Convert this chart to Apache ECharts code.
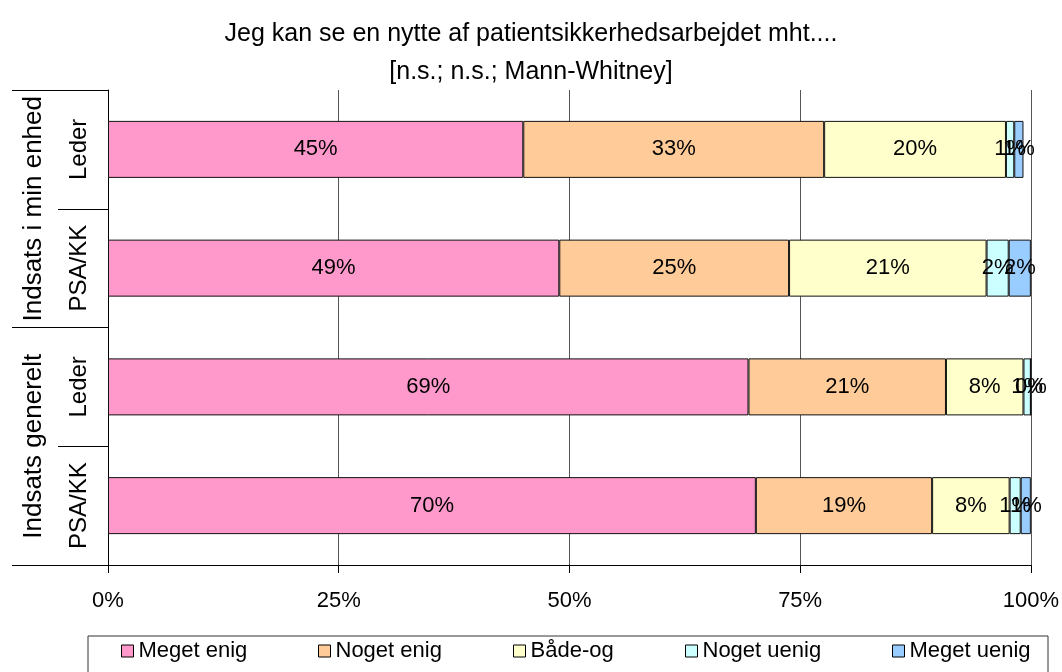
<!DOCTYPE html>
<html>
<head>
<meta charset="utf-8">
<script src="https://cdn.jsdelivr.net/npm/echarts@6/dist/echarts.min.js"></script>
<style>
html,body{margin:0;padding:0;background:#fff;}
#chart{width:1062px;height:672px;}
</style>
</head>
<body>
<div id="chart"></div>
<script>
// ---- data ----
const innerCategories = ['Leder', 'PSA/KK', 'Leder', 'PSA/KK'];
const outerCategories = ['Indsats i min enhed', 'Indsats generelt'];
const seriesNames = ['Meget enig', 'Noget enig', 'Både-og', 'Noget uenig', 'Meget uenig'];
const megetEnig  = [45.0, 48.9, 69.4, 70.2];
const nogetEnig  = [32.6, 24.9, 21.4, 19.1];
const badeOg     = [19.7, 21.4, 8.4, 8.4];
const nogetUenig = [0.9, 2.4, 0.8, 1.2];
const megetUenig = [1.0, 2.4, 0.0, 1.1];
const xTicks = [0, 25, 50, 75, 100];
const titleLines = ['Jeg kan se en nytte af patientsikkerhedsarbejdet mht....', '[n.s.; n.s.; Mann-Whitney]'];

const colors = ['#FF99CC', '#FFCC99', '#FFFFCC', '#CCFFFF', '#99CCFF'];
const values = [megetEnig, nogetEnig, badeOg, nogetUenig, megetUenig];
const FONT = '"Liberation Sans", Arial, sans-serif';

const chart = echarts.init(document.getElementById('chart'), null, {renderer: 'canvas'});

const series = seriesNames.map((name, i) => ({
  name: name,
  type: 'bar',
  stack: 'total',
  yAxisIndex: 0,
  barWidth: 57,
  data: values[i],
  itemStyle: {color: colors[i], borderColor: '#111', borderWidth: 1},
  label: {
    show: true,
    position: 'inside',
    color: '#000',
    fontFamily: FONT,
    fontSize: 22,
    formatter: p => Math.round(p.value) + '%'
  },
  emphasis: {disabled: true},
  animation: false
}));

const legendLefts = [121, 318, 513, 685, 892];
const legends = seriesNames.map((name, i) => ({
  data: [name],
  left: legendLefts[i],
  top: 640,
  padding: 0,
  itemWidth: 12,
  itemHeight: 12,
  icon: 'rect',
  itemStyle: {borderColor: '#000', borderWidth: 1},
  textStyle: {fontFamily: FONT, fontSize: 22, color: '#000'},
  selectedMode: false
}));

chart.setOption({
  backgroundColor: '#fff',
  animation: false,
  title: {
    text: titleLines.join('\n'),
    left: 'center',
    top: 10,
    textStyle: {fontFamily: FONT, fontSize: 25, fontWeight: 'normal', color: '#000', lineHeight: 38}
  },
  legend: legends,
  graphic: [{
    type: 'rect',
    shape: {x: 88, y: 636, width: 960, height: 50},
    style: {fill: 'none', stroke: '#333', lineWidth: 1},
    silent: true
  }],
  grid: {left: 108, right: 31, top: 90, bottom: 107, containLabel: false},
  xAxis: {
    type: 'value',
    min: xTicks[0],
    max: xTicks[xTicks.length - 1],
    interval: 25,
    axisLine: {show: true, lineStyle: {color: '#000', width: 1}},
    axisTick: {show: true, length: 8, lineStyle: {color: '#000'}},
    splitLine: {show: true, lineStyle: {color: '#555', width: 1}},
    axisLabel: {
      margin: 25,
      fontFamily: FONT,
      fontSize: 22,
      color: '#000',
      formatter: v => v + '%'
    }
  },
  yAxis: [{
    type: 'category',
    data: innerCategories,
    inverse: true,
    position: 'left',
    axisLine: {show: true, lineStyle: {color: '#000', width: 1}},
    axisTick: {show: true, length: 50, lineStyle: {color: '#000'}},
    axisLabel: {
      rotate: 90,
      margin: 17,
      interval: 0,
      fontFamily: FONT,
      fontSize: 24,
      color: '#000'
    }
  }, {
    type: 'category',
    data: outerCategories,
    inverse: true,
    position: 'left',
    offset: 50,
    axisLine: {show: false},
    axisTick: {show: true, length: 46, lineStyle: {color: '#000'}},
    axisLabel: {
      rotate: 90,
      margin: 11,
      interval: 0,
      fontFamily: FONT,
      fontSize: 26,
      color: '#000'
    }
  }],
  series: series
});
</script>
</body>
</html>
